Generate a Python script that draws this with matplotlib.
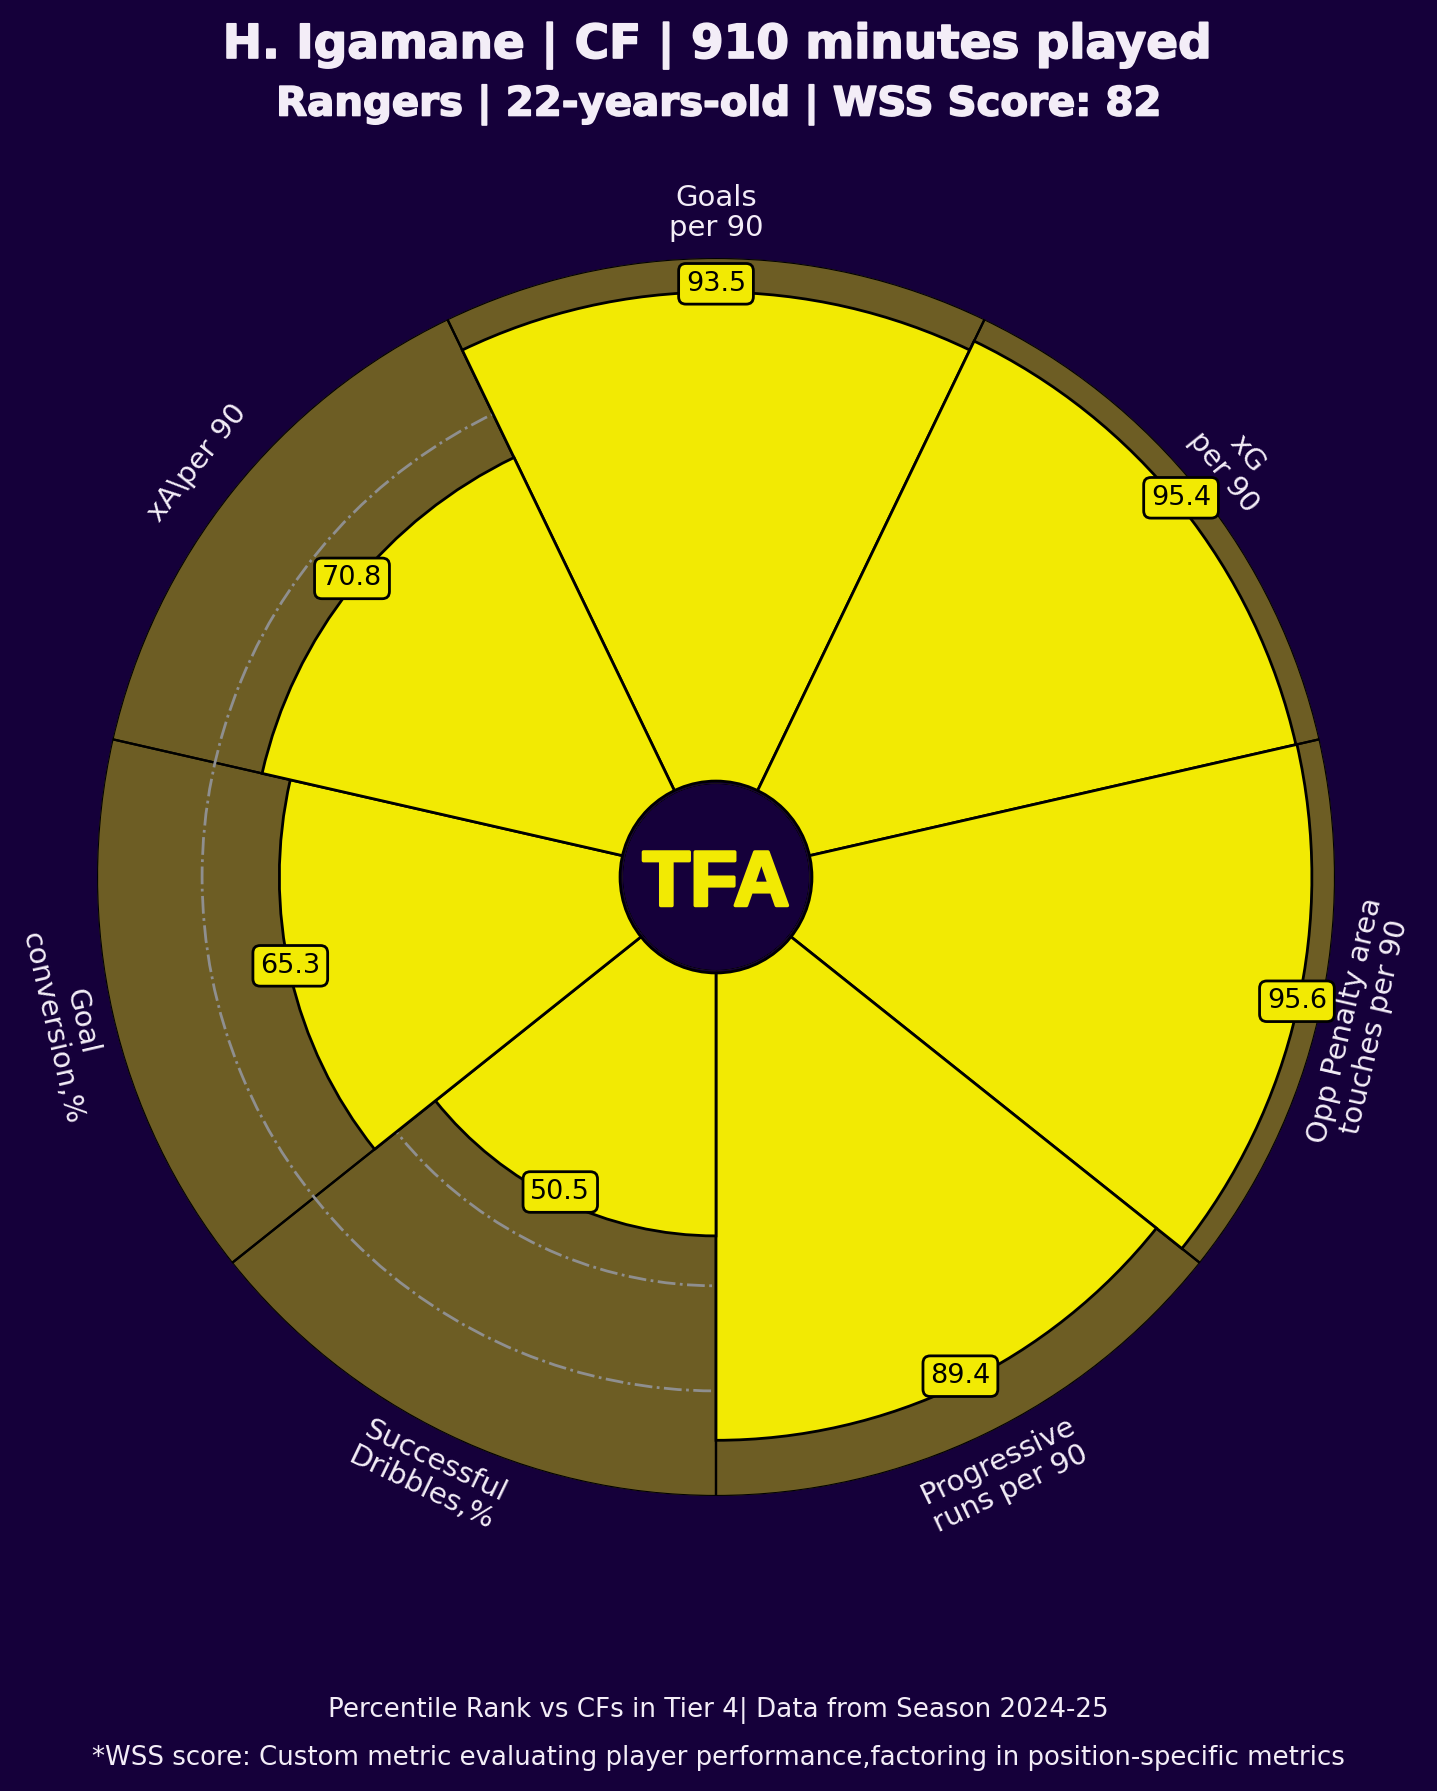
import numpy as np
import matplotlib
matplotlib.use("Agg")
import matplotlib.pyplot as plt
import matplotlib.patheffects as pe
from matplotlib.patches import Circle

# percentile values, clockwise from the top
metrics = ["Goals\nper 90", "xG\nper 90", "Opp Penalty area\ntouches per 90",
           "Progressive\nruns per 90", "Successful\nDribbles,%",
           "Goal\nconversion,%", "xA\\per 90"]
values = [93.5, 95.4, 95.6, 89.4, 50.5, 65.3, 70.8]
label_r = [108.5, 108.5, 108, 108.5, 108.5, 109, 108.5]
label_rot = [0, -51.4, 77.1, 25.7, -25.7, -77.1, 51.4]
ring_ticks = [20, 40, 60, 80]

bg = "#15003a"
yellow = "#f2ea03"
light = "#f3edf7"

plt.rcParams["font.family"] = "DejaVu Sans"

fig = plt.figure(figsize=(14.37, 17.91), dpi=100, facecolor=bg)
ax = fig.add_axes([97 / 1437, 295 / 1791, 1238 / 1437, 1238 / 1791], projection="polar")
ax.set_facecolor(bg)
ax.set_theta_zero_location("N")
ax.set_theta_direction(-1)
ax.set_ylim(0, 100)
ax.set_rorigin(-17.8)

n = len(values)
theta = np.arange(n) * 2 * np.pi / n
width = 2 * np.pi / n

ax.bar(theta, [100] * n, width=width, color=yellow, alpha=0.4, zorder=1)
ax.bar(theta, [100] * n, width=width, fill=False, edgecolor="black", lw=1.6, zorder=1.5)
ax.bar(theta, values, width=width, color=yellow, edgecolor="black", lw=2, zorder=3)

ax.set_yticks(ring_ticks)
ax.set_yticklabels([])
ax.set_xticks([])
ax.grid(True, axis="y", color="#8f8f8f", ls="-.", lw=2, zorder=2)
ax.set_axisbelow(False)
for line in ax.yaxis.get_gridlines():
    line.set_zorder(2)
ax.spines["polar"].set_visible(False)

for t, v, m, r, rot in zip(theta, values, metrics, label_r, label_rot):
    ax.annotate(f"{v:.1f}", (t, v), xytext=(0, 6), textcoords="offset points",
                ha="center", va="center", fontsize=19.5, color="black", zorder=6,
                bbox=dict(boxstyle="round,pad=0.27", fc=yellow, ec="black", lw=2))
    ax.text(t, r, m, ha="center", va="center", rotation=rot, rotation_mode="anchor",
            fontsize=21, color=light, linespacing=1.1, clip_on=False)

ax.add_patch(Circle((0.5, 0.5), 0.0775, transform=ax.transAxes, fc=bg, ec="black",
                    lw=2, zorder=5))
ax.text(0.5, 0.5, "TFA", transform=ax.transAxes, ha="center", va="center_baseline",
        family="Liberation Sans", weight="bold", fontsize=56, color=yellow, zorder=6,
        path_effects=[pe.withStroke(linewidth=2.5, foreground=yellow)])

heavy = [pe.withStroke(linewidth=1.2, foreground=light)]
fig.text(0.5, 1 - 46 / 1791, "H. Igamane | CF | 910 minutes played", ha="center", va="center",
         fontsize=33.8, weight="bold", color=light, path_effects=heavy)
fig.text(0.5, 1 - 105 / 1791, "Rangers | 22-years-old | WSS Score: 82", ha="center", va="center",
         fontsize=29, weight="bold", color=light, path_effects=heavy)
fig.text(0.5, 1 - 1710 / 1791, "Percentile Rank vs CFs in Tier 4| Data from Season 2024-25",
         ha="center", va="center", fontsize=18.8, color=light)
fig.text(0.5, 1 - 1758 / 1791,
         "*WSS score: Custom metric evaluating player performance,factoring in position-specific metrics",
         ha="center", va="center", fontsize=18.7, color=light)

fig.savefig("out.png", dpi=100, facecolor=bg)
plt.close(fig)
